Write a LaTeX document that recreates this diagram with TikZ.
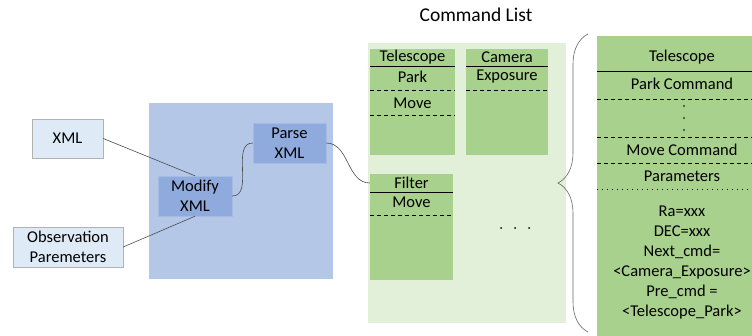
\documentclass[tikz,border=0pt]{standalone}
\usepackage{fontspec}
\setmainfont{Carlito}
\usetikzlibrary{decorations.pathreplacing}
\definecolor{inblue}{HTML}{DEEBF7}
\definecolor{procblue}{HTML}{B4C7E7}
\definecolor{stepblue}{HTML}{8FAADC}
\definecolor{listgreen}{HTML}{E2F0D9}
\definecolor{cmdgreen}{HTML}{A9D18E}

\begin{document}
\begin{tikzpicture}[x=1pt,y=-1pt,
	every node/.style={font=\fontsize{16.5}{20}\selectfont},
	inbox/.style={draw=black!30,fill=inblue,align=center,inner sep=0pt},
	stepbox/.style={draw=stepblue!80!white,fill=stepblue,align=center,inner sep=0pt},
	hdr/.style={inner sep=0pt,minimum height=17},
	conn/.style={draw=black!70,line width=0.6pt},
	sep/.style={black,line width=0.6pt,dash pattern=on 4pt off 3pt}]

	\useasboundingbox (0,0) rectangle (752,335);

	\fill[procblue] (149,103) rectangle (333,279);
	\node[inbox,minimum width=71,minimum height=39] (xml) at (67.5,138.5) {XML};
	\node[inbox,minimum width=110,minimum height=40] (obs) at (68,247) {Observation\\Paremeters};
	\node[stepbox,minimum width=74,minimum height=40] (modify) at (195,196) {Modify\\XML};
	\node[stepbox,minimum width=73,minimum height=40] (parse) at (289.5,143) {Parse\\XML};

	\node[font=\fontsize{19.5}{23}\selectfont] (title) at (476,15) {Command List};
	\fill[listgreen] (368,43) rectangle (566,323);

	\fill[cmdgreen] (370,49) rectangle (455,155);
	\node[hdr,minimum width=85] (tel) at (412.5,57.5) {Telescope};
	\draw[line width=0.6pt] (tel.south west) -- (tel.south east);
	\node (telpark) at (412.5,77) {Park};
	\draw[sep] (370,90) -- (455,90);
	\node (telmove) at (412.5,103) {Move};
	\draw[sep] (370,115) -- (455,115);

	\fill[cmdgreen] (466,49) rectangle (548,155);
	\node[hdr,minimum width=82] (cam) at (507,57.5) {Camera};
	\draw[line width=0.6pt] (cam.south west) -- (cam.south east);
	\node (camexp) at (507,77) {Exposure};
	\draw[sep] (466,90) -- (548,90);

	\fill[cmdgreen] (370,174) rectangle (453,280);
	\node[hdr,minimum width=83,minimum height=18] (filter) at (411.5,183) {Filter};
	\draw[line width=0.6pt] (filter.south west) -- (filter.south east);
	\node (filmove) at (411.5,202) {Move};
	\draw[sep] (370,215) -- (453,215);

	\foreach \x in {501,515,529}
		\fill (\x,228) circle (1pt);

	\draw[conn] (xml.east) -- (modify.north);
	\draw[conn] (obs.east) -- (modify.south);
	\draw[conn] (modify.east) to[out=0,in=180] (parse.west);
	\draw[conn] (parse.east) to[out=0,in=180] (filter.west);

	\draw[black!60,line width=0.6pt,decorate,decoration={brace,amplitude=30pt}] (588,332) -- (588,34);

	\fill[cmdgreen] (597,36) rectangle (760,340);
	\node (rtel) at (682,57) {Telescope};
	\draw[line width=0.6pt] (597,71) -- (752,71);
	\node (rpark) at (682,84) {Park Command};
	\draw[sep] (597,99) -- (752,99);
	\foreach \y in {106,118,130}
		\fill (684,\y) circle (0.9pt);
	\draw[sep] (597,137) -- (752,137);
	\node (rmove) at (682,150) {Move Command};
	\draw[sep] (597,163) -- (752,163);
	\node (rpar) at (682,176) {Parameters};
	\draw[line width=0.8pt,dash pattern=on 0.8pt off 4.2pt] (597,189) -- (752,189);
	\node[align=center] (rvals) at (682,263) {Ra=xxx\\DEC=xxx\\Next\_cmd=\\<Camera\_Exposure>\\Pre\_cmd =\\<Telescope\_Park>};

\end{tikzpicture}
\end{document}
